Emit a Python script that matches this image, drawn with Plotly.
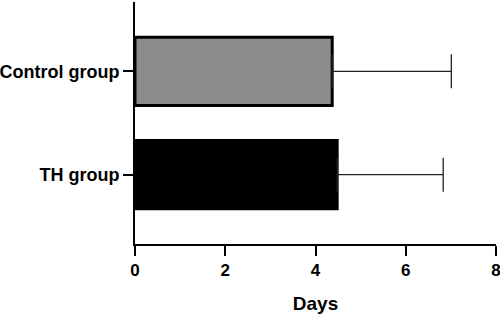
import plotly.graph_objects as go

categories = ["Control group", "TH group"]
means = [4.37, 4.48]
sds = [2.64, 2.35]
fills = ["#8c8c8c", "#000000"]
x_ticks = [0, 2, 4, 6, 8]

font_family = "Liberation Sans, Arial, sans-serif"

fig = go.Figure()
fig.add_trace(go.Bar(
    y=categories, x=means, orientation="h",
    width=0.66,
    marker=dict(color=fills, line=dict(color="#000000", width=3)),
    error_x=dict(type="data", symmetric=False, array=sds, arrayminus=[0, 0],
                 color="#222222", thickness=1.3, width=17),
    showlegend=False,
))

fig.update_layout(
    width=500, height=318,
    margin=dict(l=135, r=4, t=2, b=74),
    plot_bgcolor="white", paper_bgcolor="white",
    font=dict(family=font_family, color="black"),
    xaxis=dict(
        range=[0, 8], tickvals=x_ticks, ticktext=[str(v) for v in x_ticks],
        showline=True, linecolor="black", linewidth=2,
        ticks="outside", ticklen=10, tickwidth=2, tickcolor="black",
        showgrid=False, zeroline=False, automargin=False,
        ticklabeloverflow="allow",
        tickfont=dict(size=17, weight="bold", family=font_family),
        title=dict(text="Days", font=dict(size=19, weight="bold", family=font_family), standoff=17),
    ),
    yaxis=dict(
        range=[1.67, -0.67], type="category",
        showline=True, linecolor="black", linewidth=2,
        ticks="outside", ticklen=10, tickwidth=2, tickcolor="black",
        showgrid=False, zeroline=False, automargin=False,
        tickfont=dict(size=18, weight="bold", family=font_family),
    ),
)

fig.write_html("out.html", config={"displayModeBar": False},
               post_script="document.body.style.margin='0';")
